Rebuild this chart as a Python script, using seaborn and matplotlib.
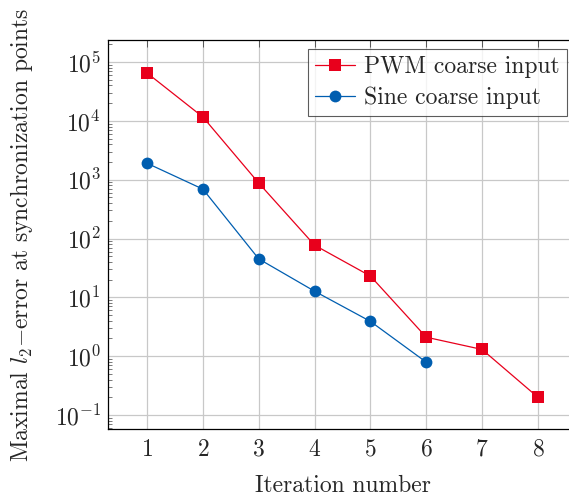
import matplotlib
matplotlib.use("Agg")
import matplotlib.pyplot as plt
import seaborn as sns
import pandas as pd
import numpy as np
from matplotlib.ticker import LogLocator, FixedLocator

iterations_pwm = [1, 2, 3, 4, 5, 6, 7, 8]
pwm_error = [6.5e4, 1.16e4, 875, 77, 23, 2.1, 1.3, 0.2]
iterations_sine = [1, 2, 3, 4, 5, 6]
sine_error = [1.9e3, 690, 45, 12.7, 3.9, 0.79]
series_names = ["PWM coarse input", "Sine coarse input"]
x_ticks = [1, 2, 3, 4, 5, 6, 7, 8]

sns.set_style("white")
plt.rcParams['font.family'] = ['cmr10', 'DejaVu Serif']
plt.rcParams['mathtext.fontset'] = 'cm'
plt.rcParams['axes.formatter.use_mathtext'] = True
plt.rcParams['axes.unicode_minus'] = False

df = pd.concat([
    pd.DataFrame({"it": iterations_pwm, "err": pwm_error, "s": series_names[0]}),
    pd.DataFrame({"it": iterations_sine, "err": sine_error, "s": series_names[1]}),
])

FS = 17

fig = plt.figure(figsize=(5.69, 4.98), dpi=100)
ax = fig.add_axes([108/569, (498-429)/498, (577-108)/569, (429-40)/498])

red = "#e8001c"
blue = "#005eb0"
sns.lineplot(data=df, x="it", y="err", hue="s", style="s",
             markers={series_names[0]: "s", series_names[1]: "o"},
             dashes=False, palette={series_names[0]: red, series_names[1]: blue},
             markersize=8.5, markeredgewidth=0, linewidth=0.9, ax=ax)
ax.set_yscale("log")
ax.set_xlim(0.3, 8.7)
ax.set_ylim(10**-1.238, 10**5.374)
ax.xaxis.set_major_locator(FixedLocator(x_ticks))
ax.yaxis.set_major_locator(LogLocator(base=10, numticks=20))
ax.yaxis.set_minor_locator(LogLocator(base=10, subs=np.arange(2, 10), numticks=20))
ax.grid(True, which="major", color="#c8c8c8", linewidth=0.9)
ax.set_axisbelow(True)
for sp in ax.spines.values():
    sp.set_color("black")
    sp.set_linewidth(0.9)
ax.tick_params(axis="both", which="major", direction="in", length=5, width=0.6,
               top=True, right=True, labelsize=FS, color="#444444")
ax.tick_params(axis="y", which="minor", direction="in", length=3, width=0.5,
               left=True, right=True, color="#444444")
ax.tick_params(axis="x", pad=7)
ax.tick_params(axis="y", pad=5)
ax.set_xlabel("Iteration number", fontsize=FS, labelpad=10)
ax.set_ylabel(r"Maximal $l_2{-}$error at synchronization points", fontsize=FS, labelpad=14)

leg = ax.legend(loc="upper right", bbox_to_anchor=((567-108)/(577-108), 1 - 9/389),
                fontsize=FS, frameon=True, fancybox=False, edgecolor="#333333",
                borderpad=0.3, handlelength=1.7, handletextpad=0.4, labelspacing=0.35,
                borderaxespad=0)
leg.get_frame().set_linewidth(0.8)
leg.set_title(None)

fig.savefig("out.png", dpi=100)
